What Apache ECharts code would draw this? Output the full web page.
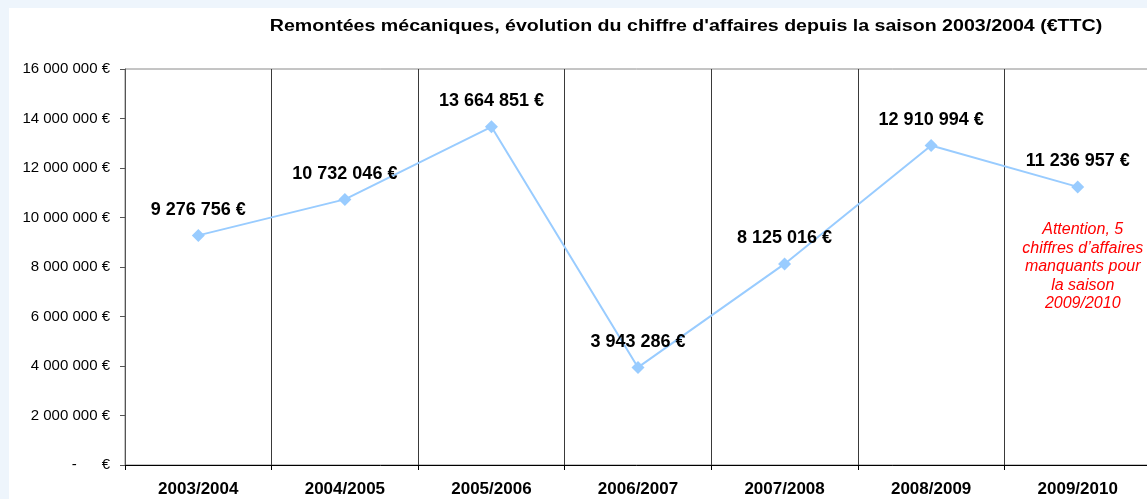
<!DOCTYPE html>
<html>
<head>
<meta charset="utf-8">
<script src="https://cdn.jsdelivr.net/npm/echarts@6/dist/echarts.min.js"></script>
<style>
  html, body { margin: 0; padding: 0; background: #eef5fc; }
  #chart { width: 1147px; height: 499px; }
</style>
</head>
<body>
<div id="chart"></div>
<script>
// Seasons and turnover of the ski lifts (euros TTC)
const seasons = ['2003/2004', '2004/2005', '2005/2006', '2006/2007', '2007/2008', '2008/2009', '2009/2010'];
const turnover = [9276756, 10732046, 13664851, 3943286, 8125016, 12910994, 11236957];
const yTicks = { min: 0, max: 16000000, interval: 2000000 };
const titleText = 'Remont\u00e9es m\u00e9caniques, \u00e9volution du chiffre d\'affaires depuis la saison 2003/2004 (\u20acTTC)';
const noteLines = ['Attention, 5', 'chiffres d\u2019affaires', 'manquants pour', 'la saison', '2009/2010'];
const noteAnchor = { season: '2009/2010', value: 8000000 };

const FONT = '"Liberation Sans", Arial, sans-serif';

function euro(v) {
  if (v === 0) return '-      \u20ac';
  return String(Math.round(v)).replace(/\B(?=(\d{3})+(?!\d))/g, ' ') + ' \u20ac';
}

const chart = echarts.init(document.getElementById('chart'), null, { renderer: 'canvas' });

const whitePanel = {
  type: 'rect', z: -10, silent: true,
  shape: { x: 9, y: 8, width: 1200, height: 520 },
  style: { fill: '#ffffff' }
};

// Wide bold heading, stretched horizontally
const heading = {
  type: 'text', silent: true,
  x: 686, y: 27, scaleX: 1.225, scaleY: 1,
  style: {
    text: titleText,
    fontFamily: FONT, fontSize: 16, fontWeight: 'bold',
    fill: '#000', align: 'center', verticalAlign: 'middle'
  }
};

chart.setOption({
  backgroundColor: '#eef5fc',
  animation: false,
  graphic: [whitePanel, heading],
  grid: {
    left: 125, top: 69, width: 1026, height: 396,
    outerBoundsMode: 'none', containLabel: false,
    show: true, borderColor: '#8a8a8a', borderWidth: 1, backgroundColor: 'transparent'
  },
  xAxis: {
    type: 'category',
    data: seasons,
    boundaryGap: true,
    axisLine: { lineStyle: { color: '#000', width: 1 } },
    axisTick: { show: true, length: 5, lineStyle: { color: '#000' } },
    splitLine: { show: true, lineStyle: { color: '#3a3a3a', width: 1 } },
    axisLabel: { fontFamily: FONT, fontSize: 17, fontWeight: 'bold', color: '#000', margin: 16 }
  },
  yAxis: {
    type: 'value',
    min: yTicks.min, max: yTicks.max, interval: yTicks.interval,
    axisLine: { show: true, lineStyle: { color: '#555', width: 1 } },
    axisTick: { show: true, length: 5, inside: false, lineStyle: { color: '#555' } },
    splitLine: { show: false },
    axisLabel: { fontFamily: FONT, fontSize: 15, color: '#000', margin: 15, formatter: euro }
  },
  series: [{
    type: 'line',
    data: turnover,
    symbol: 'diamond',
    symbolSize: 13,
    lineStyle: { color: '#99ccff', width: 2 },
    itemStyle: { color: '#99ccff' },
    label: {
      show: true, position: 'top', distance: 10,
      fontFamily: FONT, fontSize: 18, fontWeight: 'bold', color: '#000',
      formatter: p => euro(p.value)
    }
  }]
});

// Red note placed in the last season's column
const pos = chart.convertToPixel({ gridIndex: 0 }, [noteAnchor.season, noteAnchor.value]);
chart.setOption({
  graphic: [whitePanel, heading, {
    type: 'text', silent: true,
    x: pos[0] + 5, y: pos[1],
    style: {
      text: noteLines.join('\n'),
      fontFamily: FONT, fontSize: 16, fontStyle: 'italic',
      fill: '#ff0000', align: 'center', verticalAlign: 'middle', lineHeight: 18.5
    }
  }]
});
</script>
</body>
</html>
